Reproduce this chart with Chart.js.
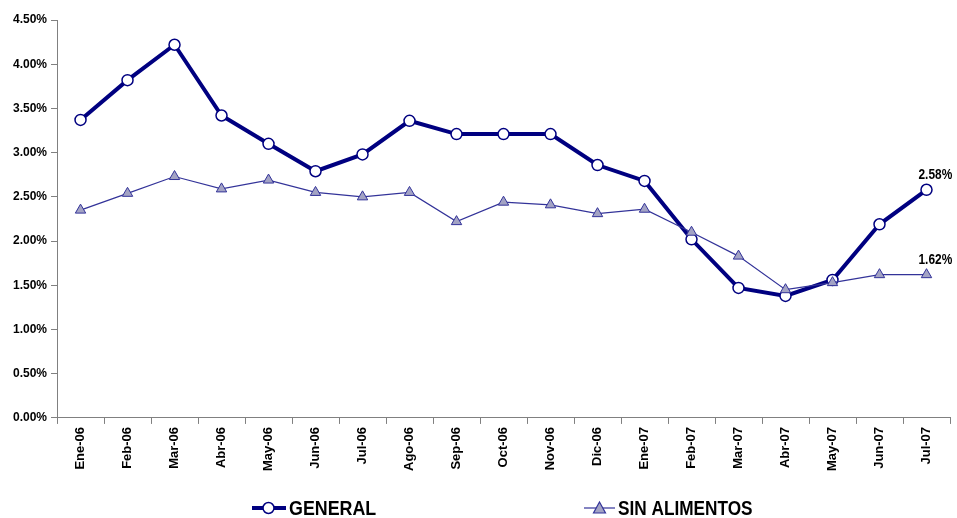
<!DOCTYPE html>
<html>
<head>
<meta charset="utf-8">
<script src="https://cdn.jsdelivr.net/npm/chart.js@4"></script>
<style>
  html, body { margin: 0; padding: 0; background: #fff; }
  #wrap { width: 957px; height: 518px; }
</style>
</head>
<body>
<div id="wrap"><canvas id="chart"></canvas></div>
<script>
const months = ["Ene-06", "Feb-06", "Mar-06", "Abr-06", "May-06", "Jun-06", "Jul-06", "Ago-06", "Sep-06", "Oct-06",
  "Nov-06", "Dic-06", "Ene-07", "Feb-07", "Mar-07", "Abr-07", "May-07", "Jun-07", "Jul-07"];
const general = [3.37, 3.82, 4.22, 3.42, 3.10, 2.79, 2.98, 3.36, 3.21, 3.21, 3.21, 2.86, 2.68, 2.02, 1.47, 1.38, 1.56, 2.19, 2.58];
const sinAlimentos = [2.35, 2.54, 2.73, 2.59, 2.69, 2.55, 2.50, 2.55, 2.22, 2.44, 2.41, 2.31, 2.36, 2.10, 1.83, 1.45, 1.53, 1.62, 1.62];

const FONT = "'Liberation Sans', Arial, sans-serif";

// condensed-looking text: draw squeezed horizontally
function narrowText(ctx, text, x, y, sx) {
  ctx.save();
  ctx.translate(x, y);
  ctx.scale(sx, 1);
  ctx.fillText(text, 0, 0);
  ctx.restore();
}

// labels above the last point of each series
const lastLabels = {
  id: "lastLabels",
  afterDatasetsDraw(chart) {
    const ctx = chart.ctx;
    ctx.save();
    ctx.font = "bold 14px " + FONT;
    ctx.fillStyle = "#000";
    ctx.textAlign = "left";
    ctx.textBaseline = "alphabetic";
    chart.data.datasets.forEach((ds, i) => {
      const meta = chart.getDatasetMeta(i);
      const pt = meta.data[meta.data.length - 1];
      const v = ds.data[ds.data.length - 1];
      narrowText(ctx, v.toFixed(2) + "%", pt.x - 8, pt.y - 11, 0.85);
    });
    ctx.restore();
  }
};

// legend drawn by hand: line + marker + text
const bottomLegend = {
  id: "bottomLegend",
  afterDraw(chart) {
    const ctx = chart.ctx;
    const y = 508;
    ctx.save();
    // GENERAL
    ctx.strokeStyle = "#000080";
    ctx.lineWidth = 4;
    ctx.beginPath(); ctx.moveTo(252, y); ctx.lineTo(286, y); ctx.stroke();
    ctx.fillStyle = "#fff";
    ctx.lineWidth = 1.5;
    ctx.beginPath(); ctx.arc(268.5, y, 5.5, 0, Math.PI * 2); ctx.fill(); ctx.stroke();
    // SIN ALIMENTOS
    ctx.strokeStyle = "#333399";
    ctx.lineWidth = 1.2;
    ctx.beginPath(); ctx.moveTo(584, y); ctx.lineTo(615, y); ctx.stroke();
    ctx.fillStyle = "#a3a3c4";
    ctx.beginPath(); ctx.moveTo(599.5, y - 6); ctx.lineTo(605.5, y + 5); ctx.lineTo(593.5, y + 5); ctx.closePath();
    ctx.fill(); ctx.stroke();

    ctx.fillStyle = "#000";
    ctx.font = "bold 21px " + FONT;
    ctx.textBaseline = "middle";
    ctx.textAlign = "left";
    narrowText(ctx, chart.data.datasets[0].label, 289, y + 1, 0.85);
    narrowText(ctx, chart.data.datasets[1].label, 618, y + 1, 0.82);
    ctx.restore();
  }
};

new Chart(document.getElementById("chart"), {
  type: "line",
  data: {
    labels: months,
    datasets: [
      {
        label: "GENERAL",
        data: general,
        borderColor: "#000080",
        borderWidth: 4,
        pointStyle: "circle",
        pointRadius: 5.5,
        pointBackgroundColor: "#ffffff",
        pointBorderColor: "#000080",
        pointBorderWidth: 1.5,
        tension: 0,
        order: 1
      },
      {
        label: "SIN ALIMENTOS",
        data: sinAlimentos,
        borderColor: "#333399",
        borderWidth: 1.2,
        pointStyle: "triangle",
        pointRadius: 6,
        pointBackgroundColor: "#a3a3c4",
        pointBorderColor: "#333399",
        pointBorderWidth: 1,
        tension: 0,
        order: 0
      }
    ]
  },
  options: {
    responsive: true,
    maintainAspectRatio: false,
    animation: false,
    layout: { padding: { top: 20, left: 9, right: 4, bottom: 44 } },
    plugins: {
      legend: { display: false },
      tooltip: { enabled: false }
    },
    scales: {
      x: {
        offset: true,
        grid: { display: true, drawOnChartArea: false, offset: true, tickLength: 6, color: "#808080" },
        border: { color: "#808080", width: 1 },
        ticks: {
          minRotation: 90,
          maxRotation: 90,
          color: "#000",
          font: { family: FONT, size: 13, weight: "bold" },
          padding: 3
        }
      },
      y: {
        min: 0,
        max: 4.5,
        grid: { display: true, drawOnChartArea: false, tickLength: 6, color: "#808080" },
        border: { color: "#808080", width: 1 },
        ticks: {
          stepSize: 0.5,
          color: "#000",
          font: { family: FONT, size: 12, weight: "bold" },
          padding: 4,
          callback: (v) => v.toFixed(2) + "%"
        }
      }
    }
  },
  plugins: [lastLabels, bottomLegend]
});
</script>
</body>
</html>
